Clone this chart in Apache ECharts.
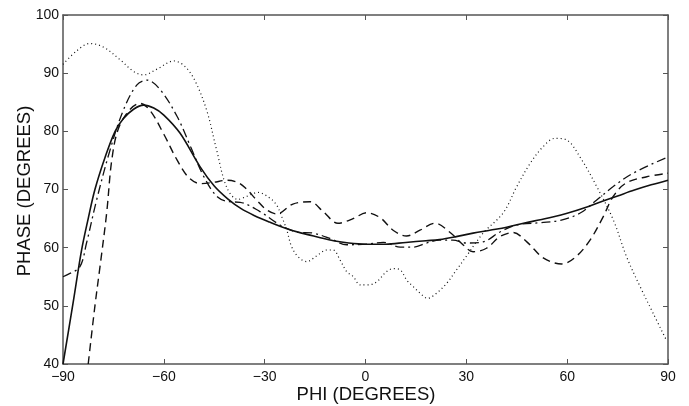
<!DOCTYPE html>
<html>
<head>
<meta charset="utf-8">
<script src="https://cdn.jsdelivr.net/npm/echarts@6/dist/echarts.min.js"></script>
<style>
body{margin:0;background:#fff;}
#chart{width:689px;height:406px;}
</style>
</head>
<body>
<div id="chart"></div>
<script>
// x tick values
var xTicks = [-90, -60, -30, 0, 30, 60, 90];
var yTicks = [40, 50, 60, 70, 80, 90, 100];
var xTitle = 'PHI (DEGREES)';
var yTitle = 'PHASE (DEGREES)';

// [phi, phase]
var solid = [[-90,40],[-87,50.5],[-84.5,59.5],[-82.5,65],[-80.5,70],[-77.5,75.5],[-74.5,80],[-72,82.2],[-69,83.8],[-66,84.5],[-63,84],[-60,82.8],[-55.2,79.7],[-49.2,73.9],[-45,70.6],[-41,68.4],[-37,66.7],[-33,65.5],[-28.5,64.4],[-24,63.4],[-19,62.5],[-14,61.8],[-9.5,61.2],[-5,60.8],[0,60.6],[6,60.6],[12,60.9],[18,61.2],[22,61.4],[27,61.9],[32,62.5],[37,63],[42,63.5],[47,64.2],[52,64.8],[56,65.3],[60,65.9],[65,66.8],[70.5,68],[75,68.9],[80,69.9],[85,70.8],[90,71.6]];
var dashed = [[-82.5,40],[-80.5,50],[-79,56.7],[-77,66],[-75.5,75],[-73.5,80.5],[-70,83.8],[-67,84.8],[-64,83.5],[-60,79.5],[-56,75],[-52.5,72],[-49,71],[-45.5,71.2],[-41,71.6],[-38,71.2],[-35.8,70.3],[-32.4,68.2],[-29.4,66.5],[-26.4,65.8],[-21.6,67.5],[-16.5,67.9],[-12.6,66.2],[-8.2,64.2],[-4,64.9],[0.4,66],[4.5,65.1],[8.2,63],[12.2,62],[16.2,63],[20.7,64.2],[25,62.7],[29,60.5],[32,59.3],[36,59.9],[40,61.9],[43.9,62.6],[48,61],[53,58.2],[58.4,57.2],[62.5,58.4],[66.8,61.3],[70.7,65.3],[73.7,68.8],[77.5,71.1],[83.7,72.2],[90,72.8]];
var dashDot = [[-90,55],[-88.5,55.4],[-85,56.7],[-83,60.8],[-80,68.2],[-76,76.8],[-72,83.7],[-68,88],[-65,88.8],[-61,87.1],[-56,82.5],[-52,77.3],[-48,72.1],[-44,68.7],[-40.5,67.9],[-37.3,67.8],[-31.4,66.2],[-25.4,63.9],[-20.5,62.7],[-15.6,62.5],[-10.6,61.6],[-5.6,60.5],[0.4,60.6],[5.3,60.9],[10.3,60.1],[14.2,60.1],[18.2,60.8],[22,61.3],[26,61.3],[30,60.8],[35,61],[40,62.7],[45,63.9],[52,64.3],[58,64.7],[64,66],[68.8,68.2],[73.7,70.5],[79.6,72.8],[90,75.6]];
var dotted = [[-90,91.5],[-86,93.8],[-82,95.1],[-78,94.5],[-73,92.3],[-69,90.3],[-66,89.7],[-62,90.7],[-57,92.1],[-54,91.3],[-51,89],[-47.3,83.7],[-44.3,76.8],[-41.3,70.4],[-38,68.3],[-35,68.9],[-32,69.5],[-28.4,68.5],[-26.4,67.3],[-24.9,65.3],[-23.4,63],[-22,60.2],[-20,58.4],[-17.5,57.6],[-14.5,58.6],[-11.5,59.6],[-9.6,59.6],[-7.6,57.9],[-5.6,55.9],[-3.6,55],[-1.6,53.6],[0.8,53.6],[3.3,54.1],[6.3,55.9],[8.3,56.4],[10.3,56.2],[12.3,54.4],[14.2,53.3],[16.2,52.2],[18.5,51.3],[21.2,52.2],[24.2,53.9],[27.1,56.2],[30.1,58.6],[35,62.5],[41,66],[45,70.5],[49,74.5],[52.9,77.4],[56.4,78.8],[59.9,78.5],[63.8,75.6],[68.8,70.5],[73.7,64.8],[77.7,58.4],[81.7,53.3],[85.6,48.7],[89.6,44]];

var chart = echarts.init(document.getElementById('chart'));
var font = 'Liberation Sans';
var ink = '#111';
function minus(v){ return String(v).replace('-', '\u2212'); }

var baseX = {
  type: 'value', min: xTicks[0], max: xTicks[xTicks.length-1], interval: 30,
  axisLine: {show: true, onZero: false, lineStyle: {color: '#555', width: 1.5}},
  axisTick: {show: true, inside: true, length: 5, lineStyle: {color: '#555'}},
  splitLine: {show: false}
};
var baseY = {
  type: 'value', min: yTicks[0], max: yTicks[yTicks.length-1], interval: 10,
  axisLine: {show: true, onZero: false, lineStyle: {color: '#555', width: 1.5}},
  axisTick: {show: true, inside: true, length: 5, lineStyle: {color: '#555'}},
  splitLine: {show: false}
};

function line(data, type, width){
  return {
    type: 'line', data: data, showSymbol: false, smooth: 0.35,
    lineStyle: {color: ink, width: width, type: type}
  };
}

chart.setOption({
  animation: false,
  backgroundColor: '#fff',
  grid: {left: 63, right: 21, top: 15, bottom: 42},
  // axis titles placed by hand (the auto layout pushes them too far out)
  graphic: [
    {type: 'text', x: 366, y: 395,
     style: {text: xTitle, font: '18.5px "Liberation Sans"', fill: ink, align: 'center', verticalAlign: 'middle'}},
    {type: 'text', x: 25, y: 191, rotation: Math.PI / 2,
     style: {text: yTitle, font: '18.5px "Liberation Sans"', fill: ink, align: 'center', verticalAlign: 'middle'}}
  ],
  xAxis: [
    Object.assign({}, baseX, {
      position: 'bottom',
      axisLabel: {fontFamily: font, fontSize: 14, color: ink, margin: 6, formatter: minus}
    }),
    Object.assign({}, baseX, {position: 'top', axisLabel: {show: false}})
  ],
  yAxis: [
    Object.assign({}, baseY, {
      position: 'left',
      axisLabel: {fontFamily: font, fontSize: 14, color: ink, margin: 4}
    }),
    Object.assign({}, baseY, {position: 'right', axisLabel: {show: false}})
  ],
  series: [
    line(dotted, [1, 3], 1.2),
    line(dashDot, [9, 4, 2, 4], 1.3),
    line(dashed, [8, 5], 1.4),
    line(solid, 'solid', 1.6)
  ]
});
</script>
</body>
</html>
